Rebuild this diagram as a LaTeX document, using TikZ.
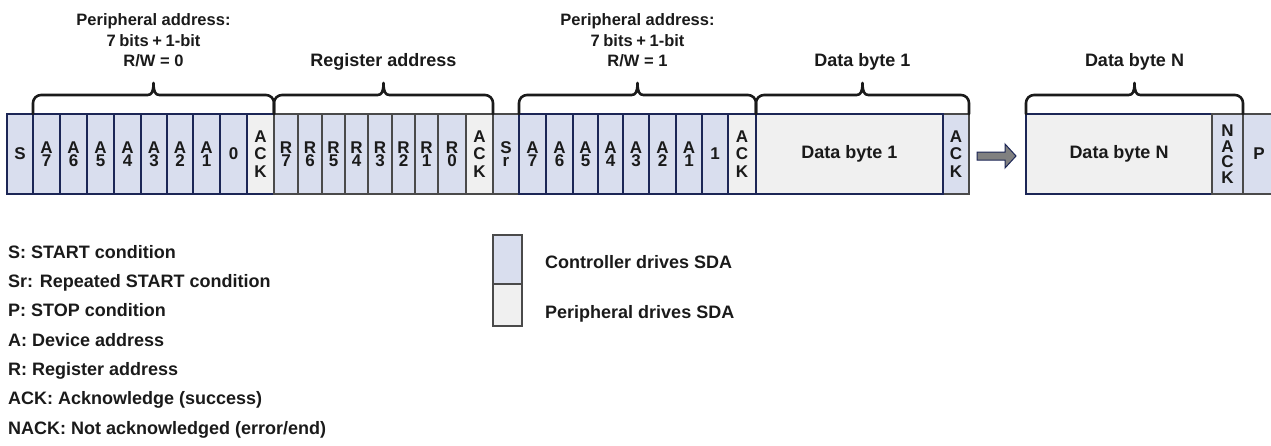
\documentclass[tikz,border=0pt]{standalone}
\usepackage{fontspec}
\setmainfont{Liberation Sans}
\usetikzlibrary{calc}
\definecolor{ctrlfill}{HTML}{D9DEEE}
\definecolor{perifill}{HTML}{F0F0F0}
\definecolor{navyline}{HTML}{1C2656}
\definecolor{greyline}{HTML}{4A4A4A}
\definecolor{arrowfill}{HTML}{808080}
\definecolor{inkcol}{HTML}{1A1A1A}
\newcommand\tightwords{\spaceskip 0.22em\relax}
\newcommand\bitcell[6][]{%
  \pgfmathsetmacro\cellwd{#4-#3}%
  \node[cell,#5,minimum width=\cellwd pt,#1] (#2) at (#3,114) {#6};}
\newcommand\bitbrace[3]{%
  \coordinate (bl) at (#1.north west);
  \coordinate (br) at (#2.north east);
  \coordinate (#3) at ($(bl)!0.5!(br)$);
  \draw[bracestyle] (bl) -- ($(bl)+(0,-11)$)
    .. controls ($(bl)+(0,-15.4)$) and ($(bl)+(3.6,-19)$) .. ($(bl)+(8,-19)$)
    -- ($(#3)+(-6,-19)$)
    .. controls ($(#3)+(-2,-19)$) and ($(#3)+(0,-22)$) .. ($(#3)+(0,-31)$)
    .. controls ($(#3)+(0,-22)$) and ($(#3)+(2,-19)$) .. ($(#3)+(6,-19)$)
    -- ($(br)+(-8,-19)$)
    .. controls ($(br)+(-3.6,-19)$) and ($(br)+(0,-15.4)$) .. ($(br)+(0,-11)$)
    -- (br);}
\begin{document}
\begin{tikzpicture}[x=1pt,y=-1pt, text=inkcol,
  cell/.style={line width=2.3pt, minimum height=80pt, inner sep=0pt, outer sep=0pt,
    anchor=north west, align=center, font=\fontsize{17}{13.5}\selectfont\bfseries},
  ca/.style={fill=ctrlfill, draw=navyline},
  cg/.style={fill=ctrlfill, draw=greyline},
  pa/.style={fill=perifill, draw=navyline},
  pg/.style={fill=perifill, draw=greyline},
  ack/.style={font=\fontsize{17}{17.5}\selectfont\bfseries},
  nack/.style={font=\fontsize{17}{15.5}\selectfont\bfseries},
  big/.style={font=\fontsize{18}{21}\selectfont\bfseries},
  hdr/.style={font=\fontsize{16.5}{21}\selectfont\bfseries, anchor=base, inner sep=0pt},
  hdrtight/.style={hdr, font={\fontsize{16.5}{21}\selectfont\bfseries\tightwords}},
  hdrbig/.style={hdr, font=\fontsize{18}{21}\selectfont\bfseries},
  lgd/.style={font=\fontsize{18}{21}\selectfont\bfseries, anchor=base west, inner sep=0pt},
  bracestyle/.style={line width=2.6pt, draw=inkcol, line join=round, line cap=round},
  lgbox/.style={draw=greyline, line width=2.3pt, minimum width=29pt, anchor=north west,
    inner sep=0pt, outer sep=0pt}]
\useasboundingbox (0,0) rectangle (1271,445);
% first address
\bitcell{s}{7}{33}{ca}{S}
\bitcell{aa7}{33}{60}{ca}{A\\7}
\bitcell{aa6}{60}{87}{ca}{A\\6}
\bitcell{aa5}{87}{114}{ca}{A\\5}
\bitcell{aa4}{114}{141}{ca}{A\\4}
\bitcell{aa3}{141}{167}{ca}{A\\3}
\bitcell{aa2}{167}{193}{ca}{A\\2}
\bitcell{aa1}{193}{220}{ca}{A\\1}
\bitcell{rw0}{220}{247}{ca}{0}
\bitcell[ack]{ack1}{247}{274}{pa}{A\\C\\K}
% register address
\bitcell{r7}{274}{298}{cg}{R\\7}
\bitcell{r6}{298}{322}{cg}{R\\6}
\bitcell{r5}{322}{345}{cg}{R\\5}
\bitcell{r4}{345}{368}{cg}{R\\4}
\bitcell{r3}{368}{392}{cg}{R\\3}
\bitcell{r2}{392}{415}{cg}{R\\2}
\bitcell{r1}{415}{438}{cg}{R\\1}
\bitcell{r0}{438}{466}{cg}{R\\0}
\bitcell[ack]{ack2}{466}{493}{pg}{A\\C\\K}
\bitcell{sr}{493}{519}{cg}{S\\r}
% second address
\bitcell{ab7}{519}{546}{ca}{A\\7}
\bitcell{ab6}{546}{573}{ca}{A\\6}
\bitcell{ab5}{573}{598}{ca}{A\\5}
\bitcell{ab4}{598}{623}{ca}{A\\4}
\bitcell{ab3}{623}{649}{ca}{A\\3}
\bitcell{ab2}{649}{676}{ca}{A\\2}
\bitcell{ab1}{676}{702}{ca}{A\\1}
\bitcell{rw1}{702}{728}{ca}{1}
\bitcell[ack]{ack3}{728}{756}{pa}{A\\C\\K}
% data
\bitcell[ack]{ack4}{943}{969}{cg}{A\\C\\K}
\bitcell[big]{d1}{756}{943}{pa}{Data byte 1}
\bitcell[big]{dn}{1026}{1212}{pa}{Data byte N}
\bitcell[nack]{nack}{1212}{1243}{cg}{N\\A\\C\\K}
\bitcell{p}{1243}{1275}{cg}{P}
% arrow
\draw[fill=arrowfill, draw=navyline, line width=1pt, line join=miter]
  (977,152) -- (1005,152) -- (1005,144) -- (1016,156) -- (1005,168) -- (1005,160) -- (977,160) -- cycle;
% braces
\bitbrace{aa7}{ack1}{bm1}
\bitbrace{r7}{ack2}{bm2}
\bitbrace{ab7}{ack3}{bm3}
\bitbrace{d1}{ack4}{bm4}
\bitbrace{dn}{nack}{bm5}
% headers
\node[hdr] (h1a) at ($(bm1)+(0,-89)$) {Peripheral address:};
\node[hdrtight] (h1b) at ($(bm1)+(0,-68)$) {7 bits + 1-bit};
\node[hdr] (h1c) at ($(bm1)+(0,-48)$) {R/W = 0};
\node[hdrbig] (h2) at ($(bm2)+(0,-48)$) {Register address};
\node[hdr] (h3a) at ($(bm3)+(0,-89)$) {Peripheral address:};
\node[hdrtight] (h3b) at ($(bm3)+(0,-68)$) {7 bits + 1-bit};
\node[hdr] (h3c) at ($(bm3)+(0,-48)$) {R/W = 1};
\node[hdrbig] (h4) at ($(bm4)+(0,-48)$) {Data byte 1};
\node[hdrbig] (h5) at ($(bm5)+(0,-48)$) {Data byte N};
% legend
\node[lgd] (l1) at (8,258) {S: START condition};
\node[lgd] (l2) at (8,287.3) {Sr: Repeated START condition};
\node[lgd] (l3) at (8,316.6) {P: STOP condition};
\node[lgd] (l4) at (8,346) {A: Device address};
\node[lgd] (l5) at (8,375.3) {R: Register address};
\node[lgd] (l6) at (8,404.6) {ACK: Acknowledge (success)};
\node[lgd] (l7) at (8,434) {NACK: Not acknowledged (error/end)};
\node[lgbox, fill=ctrlfill, minimum height=49pt] (lgc) at (493,235) {};
\node[lgbox, fill=perifill, minimum height=42pt] (lgp) at (493,284) {};
\node[lgd] (lgct) at (545,268) {Controller drives SDA};
\node[lgd] (lgpt) at (545,318) {Peripheral drives SDA};
\end{tikzpicture}
\end{document}
